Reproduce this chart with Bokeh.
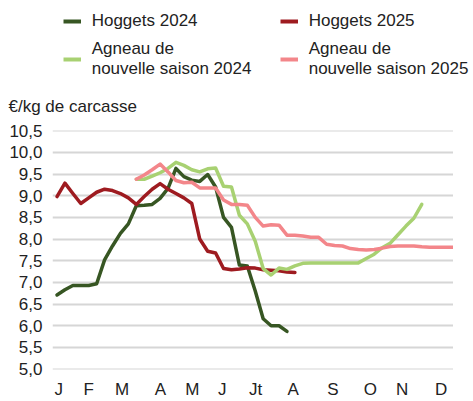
from bokeh.plotting import figure
from bokeh.layouts import column
from bokeh.models import (Range1d, FixedTicker, CustomJSTickFormatter, Legend, LegendItem)
from bokeh.embed import file_html
from bokeh.resources import INLINE

# ---- data (€/kg carcass, weekly) ----
hoggets_2024 = [6.71, 6.83, 6.93, 6.93, 6.93, 6.97, 7.52, 7.84, 8.13, 8.35,
                8.77, 8.78, 8.80, 8.94, 9.17, 9.63, 9.44, 9.36, 9.33, 9.49,
                9.20, 8.50, 8.27, 7.40, 7.38, 6.80, 6.16, 6.00, 6.00, 5.87]
hoggets_2025 = [8.98, 9.29, 9.05, 8.82, 8.95, 9.08, 9.15, 9.12, 9.05, 8.95,
                8.80, 8.98, 9.15, 9.28, 9.15, 9.05, 8.95, 8.82, 8.00, 7.72,
                7.68, 7.32, 7.29, 7.31, 7.34, 7.33, 7.29, 7.28, 7.27, 7.24, 7.23]
agneau_start_week = 11
agneau_2024 = [9.38, 9.38, 9.45, 9.53, 9.63, 9.77, 9.70, 9.60, 9.55, 9.62,
               9.64, 9.22, 9.20, 8.55, 8.35, 7.95, 7.32, 7.17, 7.33, 7.30,
               7.38, 7.44, 7.45, 7.45, 7.45, 7.45, 7.45, 7.45, 7.45, 7.55,
               7.65, 7.80, 7.90, 8.10, 8.30, 8.48, 8.80]
agneau_2025 = [9.38, 9.48, 9.60, 9.73, 9.55, 9.35, 9.30, 9.31, 9.18, 9.18,
               9.18, 8.90, 8.80, 8.80, 8.78, 8.50, 8.30, 8.33, 8.32, 8.09,
               8.09, 8.07, 8.04, 8.04, 7.88, 7.85, 7.84, 7.78, 7.76, 7.75,
               7.76, 7.79, 7.83, 7.84, 7.84, 7.84, 7.82, 7.81, 7.81, 7.81, 7.81]

month_labels = ["J", "F", "M", "A", "M", "J", "Jt", "A", "S", "O", "N", "D"]
month_pos = [1.22, 5.0, 9.2, 14.05, 18.05, 21.85, 26.03, 30.78, 35.78, 40.53, 44.53, 49.45]
y_ticks = [5.0, 5.5, 6.0, 6.5, 7.0, 7.5, 8.0, 8.5, 9.0, 9.5, 10.0, 10.5]
unit_text = "€/kg de carcasse"

series = [
    ("Hoggets 2024", list(range(1, len(hoggets_2024) + 1)), hoggets_2024, "#375623"),
    ("Hoggets 2025", list(range(1, len(hoggets_2025) + 1)), hoggets_2025, "#9e1b20"),
    ("Agneau de\nnouvelle saison 2024",
     list(range(agneau_start_week, agneau_start_week + len(agneau_2024))), agneau_2024, "#a8d172"),
    ("Agneau de\nnouvelle saison 2025",
     list(range(agneau_start_week, agneau_start_week + len(agneau_2025))), agneau_2025, "#f3868a"),
]

FONT = "Liberation Sans"
TXT = "#222222"
XR = (0.4325, 51.0)
YR = (4.99, 10.505)

# ---- header: legend only ----
head = figure(width=473, height=79, output_backend="svg", toolbar_location=None,
              x_range=Range1d(*XR), y_range=Range1d(*YR),
              x_axis_type=None, y_axis_type=None, min_border=0)
head.outline_line_color = None
head.xgrid.visible = False
head.ygrid.visible = False

# ---- main chart ----
p = figure(width=453, height=322, output_backend="svg", toolbar_location=None,
           title=unit_text,
           x_range=Range1d(*XR), y_range=Range1d(*YR),
           min_border_left=52, min_border_right=0, min_border_top=0, min_border_bottom=31)
p.outline_line_color = None
p.title.align = "left"
p.title.offset = -44
p.title.standoff = 30
p.title.text_font = FONT
p.title.text_font_size = "17px"
p.title.text_font_style = "normal"
p.title.text_color = TXT

items = []
for name, xs, ys, col in series:
    p.line(xs, ys, line_color=col, line_width=3.5, line_join="round", line_cap="round")
    key = head.line(xs, ys, line_color=col, line_width=4, visible=False)
    items.append(LegendItem(label=name, renderers=[key]))

p.xgrid.visible = False
p.ygrid.grid_line_color = "#d6d6d6"
p.ygrid.grid_line_width = 2
p.ygrid.ticker = FixedTicker(ticks=y_ticks)

p.yaxis.ticker = FixedTicker(ticks=y_ticks)
p.yaxis.formatter = CustomJSTickFormatter(code="return tick.toFixed(1).replace('.', ',');")
p.xaxis.ticker = FixedTicker(ticks=month_pos)
p.xaxis.formatter = CustomJSTickFormatter(args=dict(pos=month_pos, lab=month_labels), code="""
for (let i = 0; i < pos.length; i++) { if (Math.abs(pos[i] - tick) < 1e-6) return lab[i]; }
return '';
""")
for ax in (p.xaxis[0], p.yaxis[0]):
    ax.axis_line_color = None
    ax.major_tick_line_color = None
    ax.minor_tick_line_color = None
    ax.major_tick_out = 0
    ax.major_tick_in = 0
    ax.minor_tick_out = 0
    ax.minor_tick_in = 0
    ax.major_label_text_font = FONT
    ax.major_label_text_font_size = "17px"
    ax.major_label_text_color = TXT
    ax.major_label_standoff = 10

legend = Legend(items=items, location=(10.7, 0), orientation="horizontal", ncols=2,
                padding=0, margin=0, spacing=7, glyph_width=18, glyph_height=22,
                label_standoff=11, label_width=181, label_height=22,
                label_text_font=FONT, label_text_font_size="17px", label_text_color=TXT,
                label_text_line_height=1.5, inactive_fill_alpha=0,
                border_line_color=None, background_fill_alpha=0)
head.add_layout(legend)

layout = column(head, p, spacing=0)
open("out.html", "w").write(file_html(layout, INLINE))
